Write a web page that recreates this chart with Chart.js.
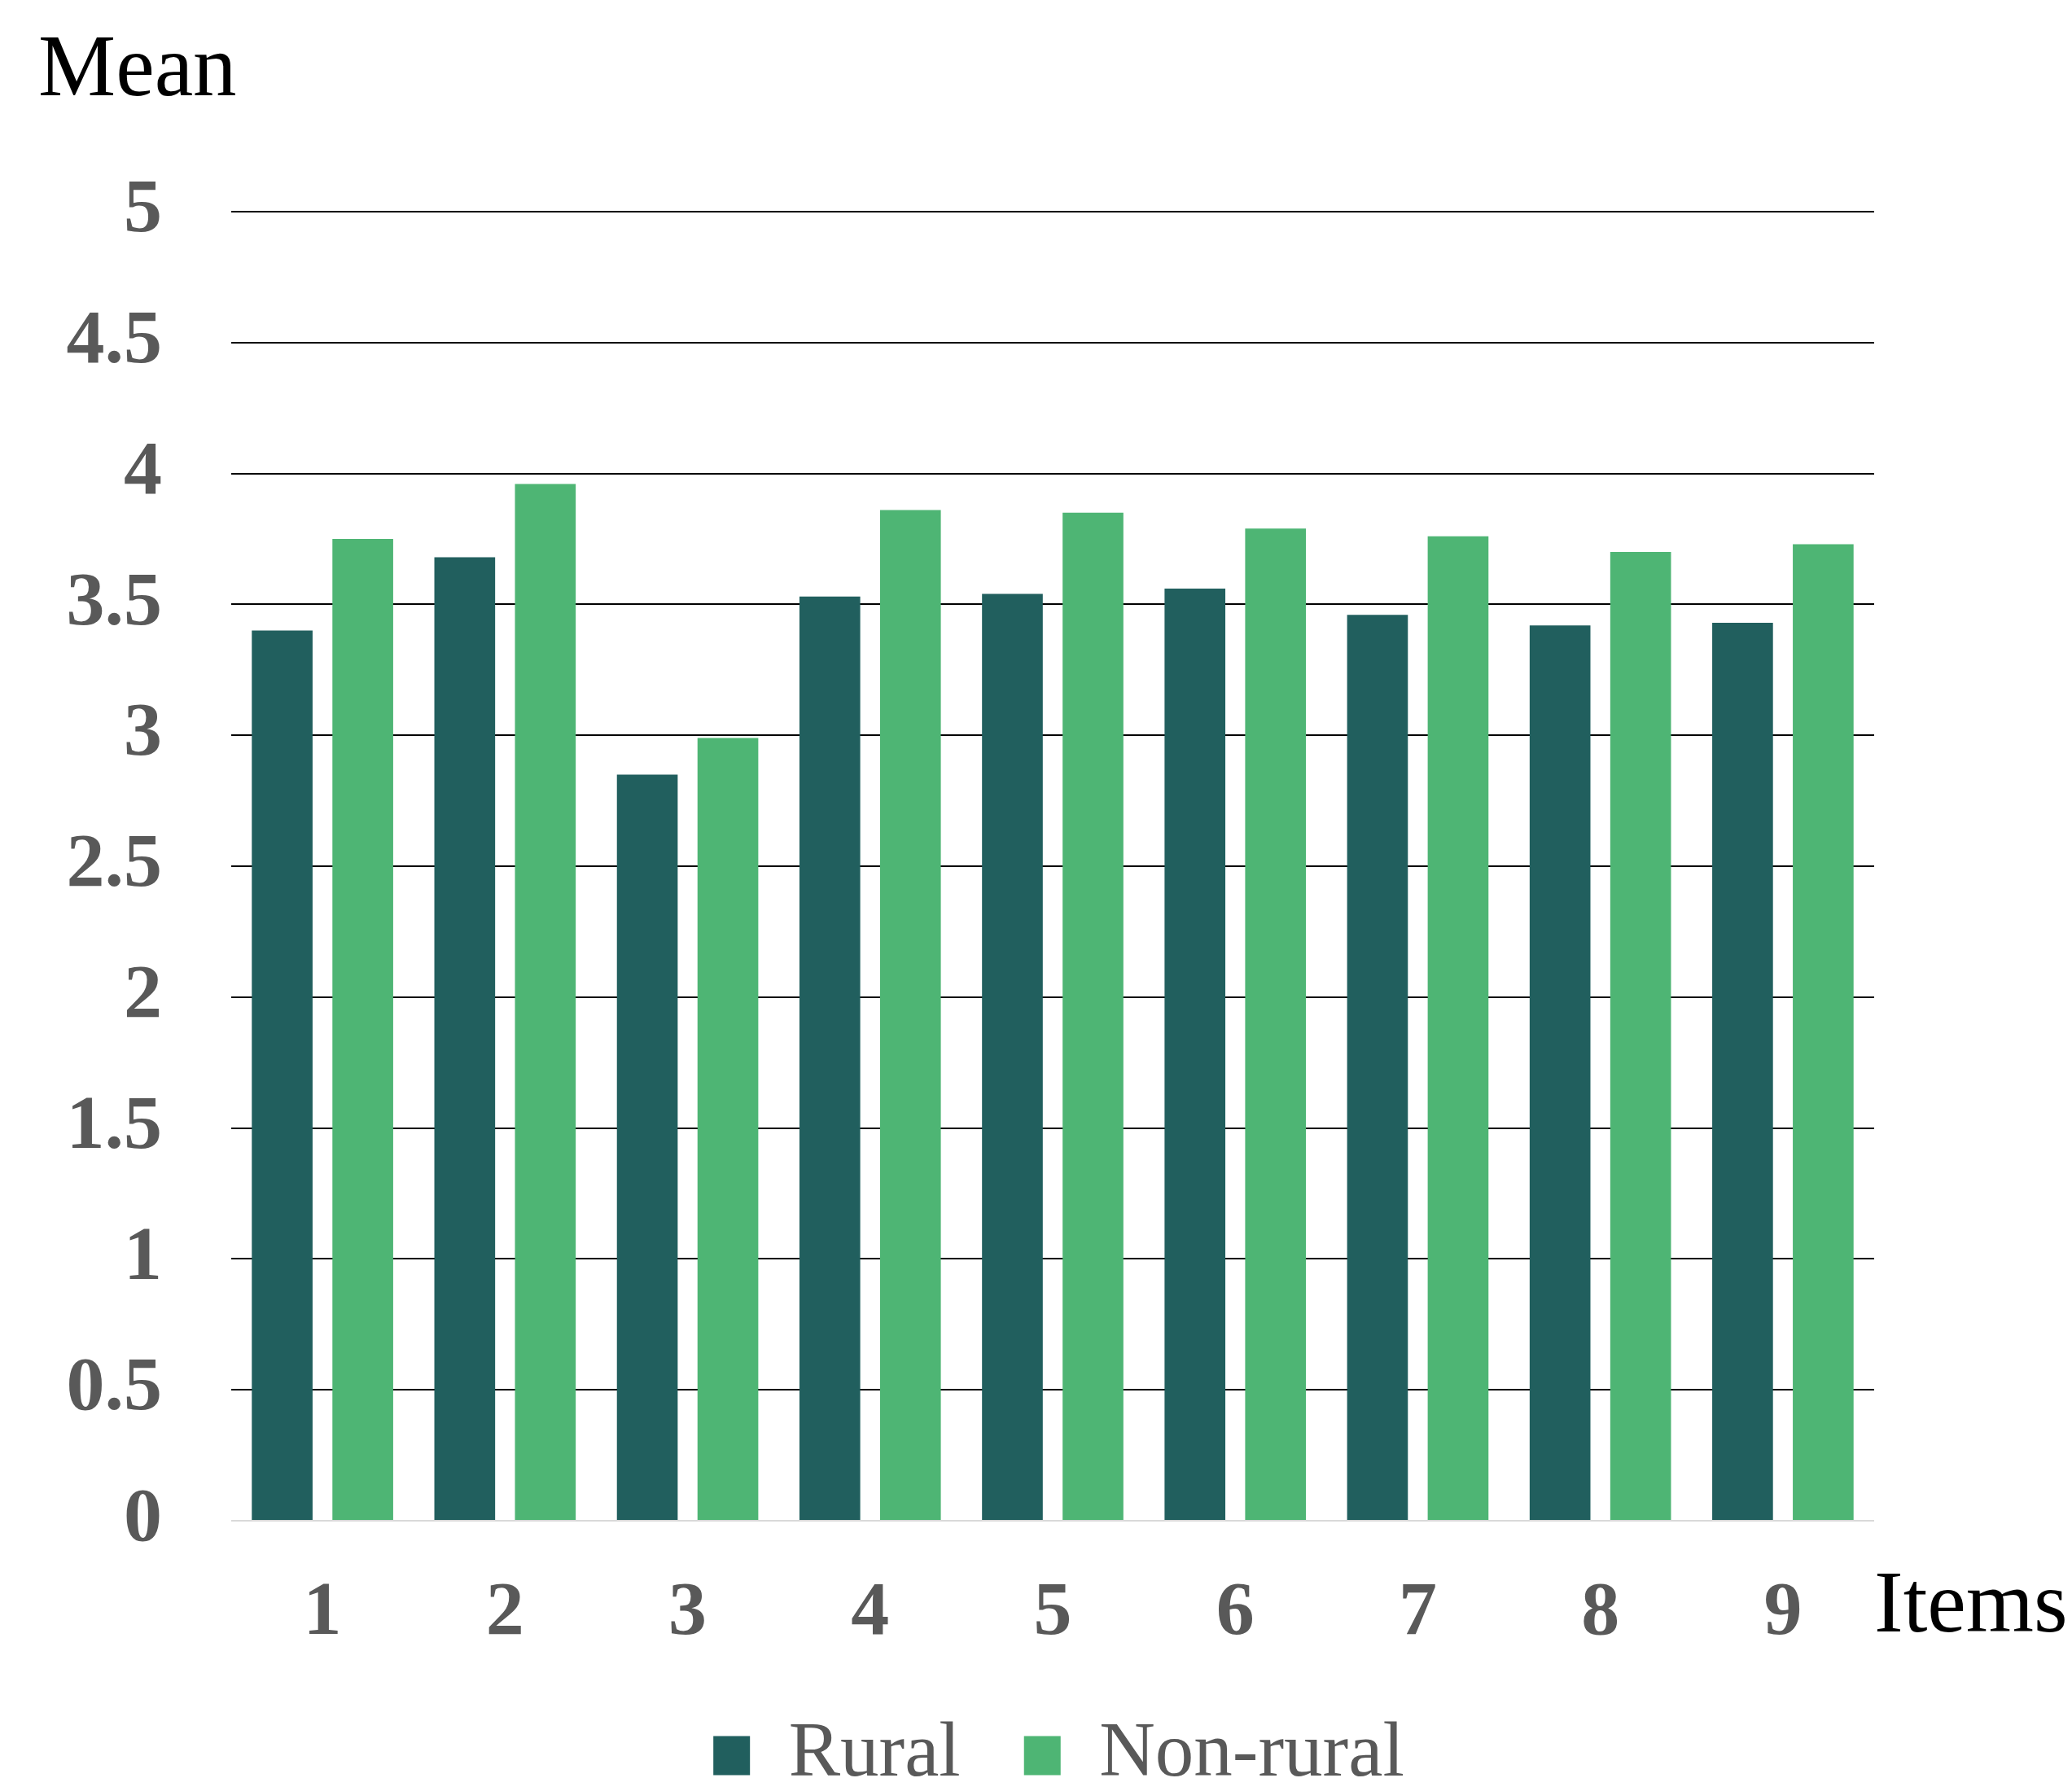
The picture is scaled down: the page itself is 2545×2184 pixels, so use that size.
<!DOCTYPE html>
<html>
<head>
<meta charset="utf-8">
<script src="https://cdn.jsdelivr.net/npm/chart.js@4.4.0/dist/chart.umd.min.js"></script>
<style>
html,body{margin:0;padding:0;background:#fff;}
#wrap{width:2545px;height:2184px;position:relative;}
</style>
</head>
<body>
<div id="wrap"><canvas id="c"></canvas></div>
<script>
const categories = ['1','2','3','4','5','6','7','8','9'];
const rural = [3.40, 3.68, 2.85, 3.53, 3.54, 3.56, 3.46, 3.42, 3.43];
const nonRural = [3.75, 3.96, 2.99, 3.86, 3.85, 3.79, 3.76, 3.70, 3.73];
const seriesNames = ['Rural', 'Non-rural'];
const yAxisTitle = 'Mean';
const xAxisTitle = 'Items';

const serif = "'Liberation Serif', 'Times New Roman', serif";

const axisTitles = {
  id: 'axisTitles',
  afterDraw(chart) {
    const ctx = chart.ctx;
    const ca = chart.chartArea;
    ctx.save();
    ctx.fillStyle = '#000';
    ctx.font = '107px ' + serif;
    ctx.textAlign = 'left';
    ctx.textBaseline = 'alphabetic';
    ctx.fillText(yAxisTitle, 47, 117);
    ctx.fillText(xAxisTitle, ca.right, ca.bottom + 136);
    ctx.restore();
  }
};

new Chart(document.getElementById('c'), {
  type: 'bar',
  data: {
    labels: categories,
    datasets: [
      { label: seriesNames[0], data: rural, backgroundColor: '#215F5E', barPercentage: 0.754, categoryPercentage: 0.883 },
      { label: seriesNames[1], data: nonRural, backgroundColor: '#4EB574', barPercentage: 0.754, categoryPercentage: 0.883 }
    ]
  },
  options: {
    responsive: true,
    maintainAspectRatio: false,
    animation: false,
    layout: { padding: { left: 56, right: 0, top: 260, bottom: -30 } },
    plugins: {
      title: { display: false },
      tooltip: { enabled: false },
      legend: {
        position: 'bottom',
        labels: {
          boxWidth: 45,
          boxHeight: 48,
          padding: 78,
          color: '#595959',
          font: { family: serif, size: 95, lineHeight: 1.0 }
        }
      }
    },
    scales: {
      x: {
        grid: { display: false, drawTicks: false },
        border: { display: false },
        ticks: {
          color: '#595959',
          font: { family: serif, size: 94, weight: 'bold' },
          padding: 58
        },
        afterFit(s) { s.height = 163; }
      },
      y: {
        position: 'left',
        min: 0,
        max: 5,
        ticks: {
          stepSize: 0.5,
          color: '#595959',
          font: { family: serif, size: 94, weight: 'bold' },
          padding: 85,
          callback: (v) => String(Number(v))
        },
        grid: {
          drawTicks: false,
          color: (c) => c.tick && c.tick.value === 0 ? '#D9D9D9' : '#000000',
          lineWidth: 2
        },
        border: { display: false },
        afterFit(s) { s.width = 228; }
      },
      yRight: {
        position: 'right',
        display: true,
        ticks: { display: false },
        grid: { display: false, drawTicks: false },
        border: { display: false },
        afterFit(s) { s.width = 243; }
      }
    }
  },
  plugins: [axisTitles]
});
</script>
</body>
</html>
